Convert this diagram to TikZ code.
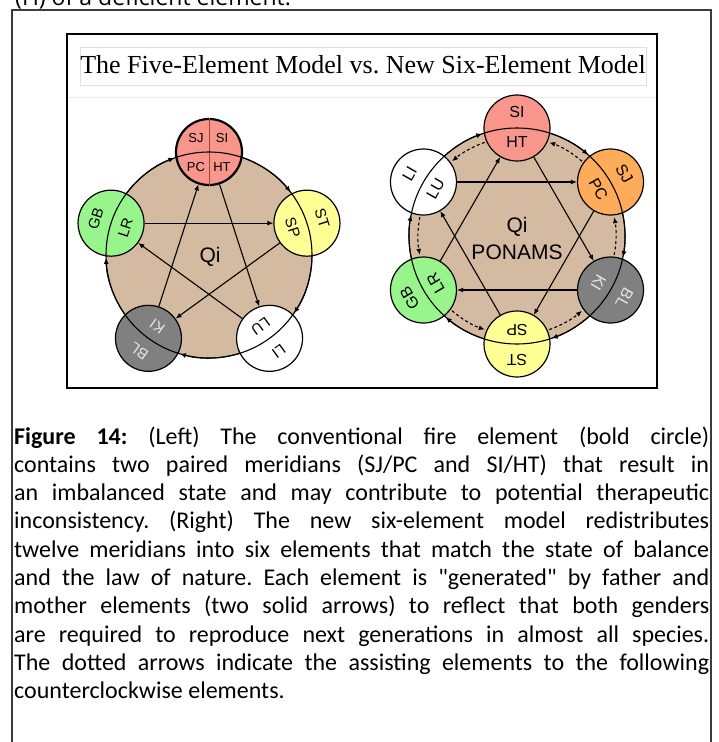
\documentclass[tikz,border=0pt]{standalone}
\usepackage{fontspec}
\setmainfont{Liberation Serif}
\newfontfamily\capfont{Carlito}
\newfontfamily\lblfont{Liberation Sans}
\newfontfamily\topfont{Open Sans}
\usetikzlibrary{arrows.meta}
\definecolor{qitan}{RGB}{211,186,160}
\definecolor{firered}{RGB}{248,150,140}
\definecolor{earthyel}{RGB}{255,255,150}
\definecolor{woodgrn}{RGB}{152,245,140}
\definecolor{watergry}{RGB}{128,128,128}
\definecolor{fireorg}{RGB}{255,172,90}
\definecolor{divred}{RGB}{150,70,60}
\definecolor{lightlbl}{RGB}{228,228,228}
\definecolor{framegray}{RGB}{60,60,60}
\frenchspacing
\begin{document}
\begin{tikzpicture}[x=1pt,y=1pt,
  elem/.style={circle,draw,line width=1.2pt,minimum size=66pt,inner sep=0pt},
  arr/.style={line width=1.1pt,-{Latex[length=6pt,width=5pt]}},
  dotarr/.style={line width=1.1pt,dash pattern=on 3pt off 2.5pt,-{Latex[length=6pt,width=5pt]}},
  lbls/.style={font=\lblfont\fontsize{13}{13}\selectfont,inner sep=0pt},
  lbl/.style={font=\lblfont\fontsize{15}{15}\selectfont,inner sep=0pt},
  lblr/.style={font=\lblfont\fontsize{16}{16}\selectfont,inner sep=0pt},
  qi/.style={font=\lblfont\fontsize{21}{24}\selectfont,inner sep=0pt},
  capline/.style={anchor=base west,inner sep=0pt,font=\capfont\fontsize{24}{28}\selectfont\frenchspacing}]
\useasboundingbox (0,0) rectangle (718,-742);
\fill[white] (0,0) rectangle (718,-742);

% cut-off text line at the very top
\node[anchor=base west,inner sep=0pt,font=\topfont\fontsize{23}{27}\selectfont] (toptext) at (15,-5) {(H) of a deficient element.};

% outer caption box (open at the bottom)
\draw[framegray,line width=1.1pt] (12,-742) -- (12,-10) -- (711,-10) -- (711,-742);

% inner figure frame
\draw[black,line width=1.4pt] (67,-34) rectangle (657,-388);
\draw[black!12,line width=0.6pt] (80,-47) rectangle (646,-85);
\draw[black!8,line width=0.6pt] (68,-97) -- (656,-97);
\node[anchor=base,inner sep=0pt,font=\fontsize{26}{30}\selectfont] (title) at (363,-73) {The Five-Element Model vs. New Six-Element Model};

% ---------------- LEFT: five-element model ----------------
\coordinate (LC) at (209,-255);
\fill[qitan] (LC) circle[radius=103];
\node[elem,fill=firered,line width=2.2pt] (fire)  at ([shift={(90:103)}]LC) {};
\node[elem,fill=earthyel] (earth) at ([shift={(18:103)}]LC) {};
\node[elem,fill=white]    (metal) at ([shift={(-54:103)}]LC) {};
\node[elem,fill=watergry] (water) at ([shift={(-126:103)}]LC) {};
\node[elem,fill=woodgrn]  (wood)  at ([shift={(162:103)}]LC) {};
\draw[divred,line width=0.7pt] (fire.north) -- (fire.south);
\draw[line width=1.1pt] (LC) circle[radius=103];
% generating cycle (clockwise, along the circle): fire->earth->metal->water->wood->fire
\foreach \s in {90,18,-54,-126,-198}{
  \draw[arr] ([shift={(\s-19:103)}]LC) arc[start angle=\s-19,end angle=\s-72+19.6,radius=103];
}
% controlling cycle (star)
\draw[arr] (wood)  -- (earth);
\draw[arr] (earth) -- (water);
\draw[arr] (water) -- (fire);
\draw[arr] (fire)  -- (metal);
\draw[arr] (metal) -- (wood);
% labels
\node[lbls] (lSJ) at (196,-138) {SJ};
\node[lbls] (lSI) at (222,-138) {SI};
\node[lbls] (lPC) at (196,-167) {PC};
\node[lbls] (lHT) at (222,-167) {HT};
\node[lbl,rotate=-72] (lSP) at ([shift={(18:88)}]LC) {SP};
\node[lbl,rotate=-72] (lST) at ([shift={(18:119)}]LC) {ST};
\node[lbl,rotate=-144] (lLU) at ([shift={(-54:88)}]LC) {LU};
\node[lbl,rotate=-144] (lLI) at ([shift={(-54:119)}]LC) {LI};
\node[lbl,rotate=144,text=lightlbl] (lKI) at ([shift={(-126:88)}]LC) {KI};
\node[lbl,rotate=144,text=lightlbl] (lBL) at ([shift={(-126:119)}]LC) {BL};
\node[lbl,rotate=72] (lLR) at ([shift={(162:88)}]LC) {LR};
\node[lbl,rotate=72] (lGB) at ([shift={(162:119)}]LC) {GB};
\node[qi] (lqi) at (210,-257) {Qi};

% ---------------- RIGHT: six-element model ----------------
\coordinate (RC) at (517,-236);
\fill[qitan] (RC) circle[radius=108];
\node[elem,fill=firered]  (rsi) at ([shift={(90:108)}]RC) {};
\node[elem,fill=fireorg]  (rsj) at ([shift={(30:108)}]RC) {};
\node[elem,fill=watergry] (rki) at ([shift={(-30:108)}]RC) {};
\node[elem,fill=earthyel] (rsp) at ([shift={(-90:108)}]RC) {};
\node[elem,fill=woodgrn]  (rlr) at ([shift={(210:108)}]RC) {};
\node[elem,fill=white]    (rlu) at ([shift={(150:108)}]RC) {};
\draw[line width=1.1pt] (RC) circle[radius=108];
% generating cycle (clockwise)
\foreach \s in {150,90,30,-30,-90,-150}{
  \draw[arr] ([shift={(\s-18:108)}]RC) arc[start angle=\s-18,end angle=\s-60+18.7,radius=108];
}
% hexagram
\draw[arr] (rlu) -- (rsj);
\draw[arr] (rki) -- (rlr);
\draw[arr] (rlr) -- (rsi);
\draw[arr] (rsi) -- (rki);
\draw[arr] (rsj) -- (rsp);
\draw[arr] (rsp) -- (rlu);
% assisting (dotted, counterclockwise)
\foreach \a in {30,90,150,210,270,330}{
  \draw[dotarr] ([shift={(\a+19:99)}]RC) arc[start angle=\a+19,end angle=\a+41,radius=99];
}
% labels
\node[lblr] (rSI) at ([shift={(90:124)}]RC) {SI};
\node[lblr] (rHT) at ([shift={(90:94)}]RC) {HT};
\node[lblr,rotate=-60] (rSJ) at ([shift={(30:124)}]RC) {SJ};
\node[lblr,rotate=-60] (rPC) at ([shift={(30:94)}]RC) {PC};
\node[lblr,rotate=-120,text=lightlbl] (rBL) at ([shift={(-30:124)}]RC) {BL};
\node[lblr,rotate=-120,text=lightlbl] (rKI) at ([shift={(-30:94)}]RC) {KI};
\node[lblr,rotate=180] (rST) at ([shift={(-90:124)}]RC) {ST};
\node[lblr,rotate=180] (rSP) at ([shift={(-90:94)}]RC) {SP};
\node[lblr,rotate=120] (rGB) at ([shift={(210:124)}]RC) {GB};
\node[lblr,rotate=120] (rLR) at ([shift={(210:94)}]RC) {LR};
\node[lblr,rotate=60] (rLI) at ([shift={(150:124)}]RC) {LI};
\node[lblr,rotate=60] (rLU) at ([shift={(150:94)}]RC) {LU};
\node[qi] (rqi) at (517,-227) {Qi};
\node[qi] (rponams) at (517,-252) {PONAMS};

% ---------------- caption ----------------
\node[capline] (c1) at (14,-444.0) {\makebox[695pt][s]{\bfseries Figure 14:\mdseries{} (Left) The conventional fire element (bold circle)}};
\node[capline] (c2) at (14,-472.3) {\makebox[695pt][s]{contains two paired meridians (SJ/PC and SI/HT) that result in}};
\node[capline] (c3) at (14,-500.6) {\makebox[695pt][s]{an imbalanced state and may contribute to potential therapeutic}};
\node[capline] (c4) at (14,-528.9) {\makebox[695pt][s]{inconsistency. (Right) The new six-element model redistributes}};
\node[capline] (c5) at (14,-557.2) {\makebox[695pt][s]{twelve meridians into six elements that match the state of balance}};
\node[capline] (c6) at (14,-585.5) {\makebox[695pt][s]{and the law of nature. Each element is "generated" by father and}};
\node[capline] (c7) at (14,-613.8) {\makebox[695pt][s]{mother elements (two solid arrows) to reflect that both genders}};
\node[capline] (c8) at (14,-642.1) {\makebox[695pt][s]{are required to reproduce next generations in almost all species.}};
\node[capline] (c9) at (14,-670.4) {\makebox[695pt][s]{The dotted arrows indicate the assisting elements to the following}};
\node[capline] (c10) at (14,-698.7) {counterclockwise elements.};
\end{tikzpicture}
\end{document}
